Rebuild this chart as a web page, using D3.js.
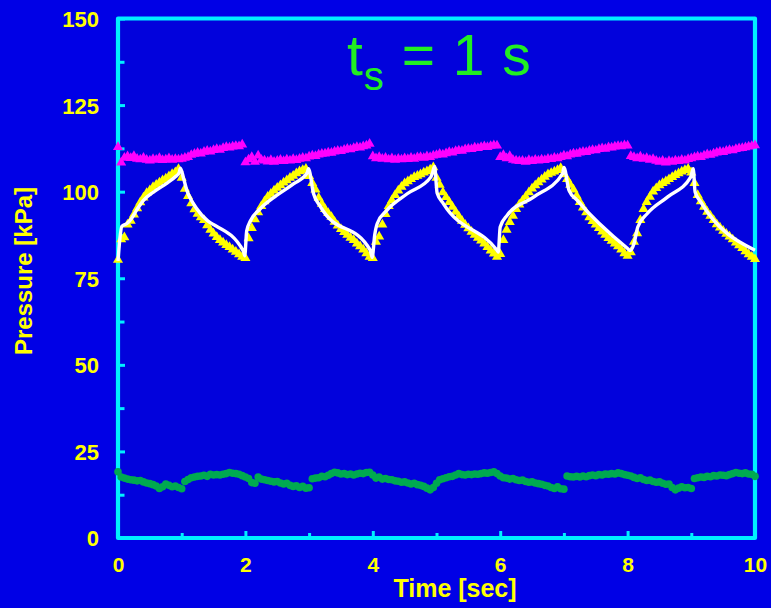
<!DOCTYPE html>
<html>
<head>
<meta charset="utf-8">
<script src="https://cdn.jsdelivr.net/npm/d3@7"></script>
<style>
  html, body { margin: 0; padding: 0; background: #0000e6; }
  svg { display: block; }
</style>
</head>
<body>
<script>
// Sampling instant of the measured series (s)
const sampleStep = 0.05;

// Measured pressure in the chamber (yellow triangles), kPa
const chamberPressure = [
  80.3, 86.2, 86.8, 90.5, 91.6, 93.4, 95.2, 96.9, 98.3, 99.6, 100.4, 101.3, 102.0, 102.6, 103.3, 103.8, 104.4, 105.1, 105.6, 106.5,
  104.0, 100.8, 98.7, 96.6, 94.9, 93.6, 92.6, 91.8, 90.3, 89.0, 87.9, 86.9, 86.0, 85.3, 84.6, 84.0, 83.3, 82.6, 81.9, 81.2,
  80.8, 86.5, 89.5, 92.0, 94.0, 95.8, 97.2, 98.5, 99.4, 100.3, 101.1, 101.8, 102.6, 103.3, 104.0, 104.6, 105.3, 105.9, 106.2, 106.6,
  104.5, 102.5, 100.6, 98.2, 96.5, 95.0, 93.8, 92.7, 91.3, 90.2, 89.2, 88.3, 87.5, 86.7, 86.0, 85.0, 84.2, 83.3, 82.2, 81.2,
  80.8, 85.5, 87.0, 90.5, 93.5, 95.8, 97.5, 99.0, 100.3, 101.4, 102.4, 103.0, 103.6, 104.2, 104.6, 105.0, 105.5, 105.9, 106.4, 107.0,
  104.0, 102.0, 99.8, 98.4, 97.0, 95.6, 94.2, 92.9, 91.6, 90.4, 89.4, 88.4, 87.5, 86.7, 85.9, 85.0, 84.0, 83.0, 82.1, 81.2,
  82.0, 86.0, 89.0, 91.2, 93.0, 95.0, 96.3, 97.4, 98.6, 99.8, 100.9, 101.8, 102.7, 103.5, 104.3, 105.0, 105.4, 105.8, 106.2, 106.8,
  105.0, 103.6, 102.0, 100.6, 98.8, 97.0, 95.4, 94.0, 92.6, 91.5, 90.5, 89.5, 88.5, 87.5, 86.6, 85.8, 85.0, 84.2, 83.3, 82.2,
  81.5, 82.5, 85.5, 88.0, 91.8, 95.0, 97.0, 98.5, 100.0, 101.0, 101.8, 102.5, 103.0, 103.6, 104.2, 104.8, 105.3, 105.8, 106.2, 106.6,
  105.5, 102.5, 99.0, 97.2, 95.6, 94.2, 93.0, 91.8, 90.6, 89.6, 88.7, 87.8, 87.0, 86.2, 85.3, 84.5, 83.7, 82.8, 81.9, 81.2,
  80.5
];

// Measured supply pressure (magenta triangles), kPa
const supplyPressure = [
  112.9, 108.4, 109.8, 110.2, 109.7, 110.3, 109.5, 109.3, 109.8, 109.2, 109.0, 109.4, 109.2, 109.7, 109.1, 109.3, 109.6, 109.2, 109.4, 109.3,
  109.5, 109.8, 110.0, 110.6, 110.9, 111.2, 111.0, 111.5, 111.8, 111.6, 112.0, 112.3, 112.1, 112.6, 112.9, 112.7, 113.0, 113.2, 113.1, 113.6,
  108.5, 109.3, 110.0, 108.6, 110.4, 109.2, 109.0, 108.7, 109.1, 108.6, 108.9, 109.2, 108.8, 109.3, 109.0, 109.4, 109.1, 109.5, 109.8, 109.6,
  110.1, 110.4, 110.3, 110.7, 110.9, 111.0, 111.3, 111.2, 111.6, 111.8, 111.7, 112.1, 112.4, 112.2, 112.6, 112.9, 112.7, 113.1, 113.3, 113.8,
  110.2, 109.6, 110.0, 109.5, 109.8, 109.3, 109.6, 109.2, 109.5, 109.3, 109.6, 109.4, 109.8, 109.5, 109.9, 110.0, 109.8, 110.2, 110.0, 110.4,
  110.6, 110.9, 110.7, 111.1, 111.4, 111.3, 111.7, 111.9, 111.8, 112.2, 112.4, 112.3, 112.7, 112.6, 112.9, 113.1, 112.9, 113.2, 113.4, 113.3,
  110.0, 110.6, 109.6, 110.3, 109.2, 109.0, 108.8, 108.9, 108.6, 109.1, 108.8, 109.2, 109.0, 109.3, 109.1, 109.5, 109.4, 109.8, 109.6, 110.0,
  110.4, 110.2, 110.7, 111.0, 110.9, 111.3, 111.5, 111.4, 111.8, 112.0, 111.9, 112.3, 112.5, 112.4, 112.8, 112.7, 113.0, 113.2, 113.1, 113.4,
  113.3, 110.3, 110.0, 109.6, 110.1, 109.5, 109.7, 109.2, 109.4, 108.9, 108.6, 108.9, 108.4, 108.8, 108.6, 109.0, 108.8, 109.2, 109.0, 109.4,
  109.6, 109.9, 110.1, 110.0, 110.4, 110.8, 110.6, 111.0, 111.3, 111.5, 111.4, 111.8, 112.0, 111.9, 112.3, 112.5, 112.6, 112.8, 113.0, 113.2,
  113.4
];

// Measured exhaust-side pressure (green circles), kPa
const exhaustPressure = [
  19.1, 17.6, 17.3, 17.0, 16.8, 16.7, 16.5, 16.6, 16.2, 15.9, 15.7, 15.4, 15.0, 14.3, 14.8, 15.6, 15.2, 14.8, 15.0, 14.6,
  14.2, 16.3, 16.9, 17.4, 17.6, 17.8, 17.9, 18.1, 17.8, 18.4, 18.2, 18.3, 18.2, 18.4, 18.6, 18.9, 18.7, 18.6, 18.4, 18.0,
  17.6, 17.2, 16.0, 15.8, 17.6, 17.0, 16.8, 16.6, 16.4, 16.2, 16.3, 15.9, 15.6, 15.8, 15.2, 14.9, 15.1, 14.6, 14.9, 14.4,
  14.5, 17.1, 17.3, 17.4, 17.8, 17.7, 18.1, 18.6, 19.0, 18.8, 18.5, 18.6, 18.3, 18.5, 18.2, 18.5, 18.7, 18.6, 18.9, 19.0,
  18.2, 17.3, 17.6, 17.0, 17.2, 16.9, 16.8, 16.5, 16.4, 16.1, 16.2, 15.9, 15.6, 15.8, 15.4, 15.2, 14.9, 14.4, 13.9, 14.6,
  15.8, 16.8, 17.1, 17.4, 17.7, 17.8, 18.2, 18.6, 18.3, 18.2, 18.4, 18.3, 18.5, 18.4, 18.6, 18.8, 18.7, 18.9, 19.1, 18.6,
  17.9, 17.4, 17.3, 17.0, 17.2, 16.8, 16.6, 16.7, 16.3, 16.1, 16.2, 15.9, 15.7, 15.5, 15.2, 15.0, 14.6, 14.3, 14.8, 14.2,
  14.1, 17.9, 17.7, 17.6, 17.8, 17.6, 17.9, 17.7, 18.0, 18.2, 18.0, 18.3, 18.2, 18.5, 18.4, 18.6, 18.5, 18.8, 18.6, 18.3,
  18.1, 17.9, 17.5, 17.2, 17.4, 16.9, 16.6, 16.7, 16.3, 16.1, 16.2, 15.8, 15.5, 15.6, 14.6, 13.9, 14.4, 14.8, 14.5, 14.6,
  14.3, 17.2, 17.4, 17.6, 17.5, 17.8, 17.7, 18.0, 17.9, 18.2, 18.1, 18.0, 18.3, 18.6, 18.9, 18.7, 18.6, 18.8, 18.5, 18.4,
  17.8
];

// Simulated chamber pressure (white line)
const modelTime = [
  0, 0.03, 0.06, 0.14, 0.21, 0.29, 0.40, 0.56, 0.77, 0.90, 0.96, 0.98, 1.03, 1.08, 1.15, 1.24, 1.97, 1.99,
  2.02, 2.08, 2.23, 2.49, 2.76, 2.97, 2.99, 3.07, 3.18, 3.96, 3.99,
  4.03, 4.07, 4.22, 4.54, 4.91, 4.94, 4.97, 5.01, 5.11, 5.95, 5.97,
  6.00, 6.11, 6.53, 6.98, 7.00, 7.08, 7.21, 8.00, 8.04,
  8.10, 8.16, 8.31, 8.63, 8.99, 9.03, 9.06, 9.15, 10.0
];
const modelPressure = [
  80.0, 86.5, 90.0, 90.8, 92.2, 94.6, 97.5, 99.9, 102.5, 104.3, 105.5, 106.8, 103.8, 100.4, 97.6, 95.0, 82.8, 81.5,
  88.6, 91.6, 95.0, 98.9, 102.3, 105.4, 106.6, 99.4, 95.6, 83.1, 81.0,
  87.5, 90.8, 94.6, 99.4, 104.2, 105.6, 107.3, 99.6, 96.5, 83.1, 82.6,
  89.8, 93.2, 98.5, 105.2, 107.0, 100.4, 97.5, 83.6, 83.0,
  85.0, 89.8, 93.7, 98.5, 104.2, 106.6, 99.9, 97.0, 83.1
];

// Axis ticks
const xTickLabels = [0, 2, 4, 6, 8, 10];
const xMinorTicks = [1, 3, 5, 7, 9];
const yTickLabels = [0, 25, 50, 75, 100, 125, 150];
const yMinorTicks = [12.5, 37.5, 62.5, 87.5, 112.5, 137.5];

const W = 771, H = 608;
const plotLeft = 118, plotRight = 755, plotTop = 18.5, plotBottom = 538;

const svg = d3.select("body").append("svg").attr("width", W).attr("height", H);

svg.append("rect").attr("width", W).attr("height", H).attr("fill", "#0000e6");
svg.append("rect")
  .attr("x", plotLeft).attr("y", plotTop)
  .attr("width", plotRight - plotLeft).attr("height", plotBottom - plotTop)
  .attr("fill", "#0202dc");

const x = d3.scaleLinear().domain([0, 10]).range([plotLeft, plotRight]);
const y = d3.scaleLinear().domain([0, 150]).range([plotBottom, plotTop]);

const axisColor = "#00f0ff";
const labelFont = "'Liberation Sans', Arial, sans-serif";

// Frame
svg.append("rect")
  .attr("x", plotLeft).attr("y", plotTop)
  .attr("width", plotRight - plotLeft).attr("height", plotBottom - plotTop)
  .attr("fill", "none").attr("stroke", axisColor)
  .attr("stroke-width", 4.2).attr("stroke-linejoin", "round");

function styleAxis(g, tickWidth) {
  g.select(".domain").remove();
  g.selectAll(".tick line").attr("stroke", axisColor).attr("stroke-width", tickWidth);
  g.selectAll(".tick text")
    .attr("fill", "#ffff00")
    .attr("font-family", labelFont)
    .attr("font-weight", "bold");
}

// Y axis: labelled ticks and minor ticks, pointing inward
const yAxis = svg.append("g").attr("transform", `translate(${plotLeft},0)`)
  .call(d3.axisLeft(y).tickValues(yTickLabels).tickSizeInner(-7).tickSizeOuter(0).tickPadding(19));
styleAxis(yAxis, 3);
yAxis.selectAll(".tick text").attr("font-size", 22).attr("dy", "0.36em");

const yMinor = svg.append("g").attr("transform", `translate(${plotLeft},0)`)
  .call(d3.axisLeft(y).tickValues(yMinorTicks).tickSizeInner(-6.5).tickSizeOuter(0).tickFormat(""));
styleAxis(yMinor, 3);

// X axis
const xAxis = svg.append("g").attr("transform", `translate(0,${plotBottom})`)
  .call(d3.axisBottom(x).tickValues(xTickLabels).tickSizeInner(-7).tickSizeOuter(0).tickPadding(19));
styleAxis(xAxis, 3);
xAxis.selectAll(".tick text").attr("font-size", 21).attr("dy", "0.71em");

const xMinor = svg.append("g").attr("transform", `translate(0,${plotBottom})`)
  .call(d3.axisBottom(x).tickValues(xMinorTicks).tickSizeInner(-5).tickSizeOuter(0).tickFormat(""));
styleAxis(xMinor, 3);

// Axis titles
svg.append("text")
  .attr("x", 455).attr("y", 597)
  .attr("text-anchor", "middle")
  .attr("font-family", labelFont).attr("font-weight", "bold").attr("font-size", 25)
  .attr("fill", "#ffff00")
  .text("Time [sec]");

svg.append("text")
  .attr("transform", "translate(32,271) rotate(-90)")
  .attr("text-anchor", "middle")
  .attr("font-family", labelFont).attr("font-weight", "bold").attr("font-size", 24)
  .attr("fill", "#ffff00")
  .text("Pressure [kPa]");

// Title: t_s = 1 s
const title = svg.append("text")
  .attr("x", 347).attr("y", 75)
  .attr("font-family", labelFont).attr("font-size", 57)
  .attr("letter-spacing", 1)
  .attr("fill", "#22ee22");
title.append("tspan").text("t");
title.append("tspan").attr("font-size", 40).attr("dy", 15).text("s");
title.append("tspan").attr("dy", -15).text(" = 1 s");

const sampleTimes = d3.range(chamberPressure.length).map(i => +(i * sampleStep).toFixed(2));

const tri = d3.symbol().type(d3.symbolTriangle).size(44);

// Supply pressure
svg.append("g").selectAll("path")
  .data(supplyPressure)
  .join("path")
  .attr("d", tri)
  .attr("transform", (d, i) => `translate(${x(sampleTimes[i])},${y(d)})`)
  .attr("fill", "#ff00ff");

// Exhaust pressure
svg.append("g").selectAll("circle")
  .data(exhaustPressure)
  .join("circle")
  .attr("cx", (d, i) => x(sampleTimes[i]))
  .attr("cy", d => y(d))
  .attr("r", 3.8)
  .attr("fill", "#00aa50");

// Chamber pressure (measured)
svg.append("g").selectAll("path")
  .data(chamberPressure)
  .join("path")
  .attr("d", tri)
  .attr("transform", (d, i) => `translate(${x(sampleTimes[i])},${y(d)})`)
  .attr("fill", "#ffff00");

// Chamber pressure (model)
const line = d3.line()
  .x((d, i) => x(modelTime[i]))
  .y(d => y(d))
  .curve(d3.curveMonotoneX);

svg.append("path")
  .datum(modelPressure)
  .attr("d", line)
  .attr("fill", "none")
  .attr("stroke", "#ffffff")
  .attr("stroke-width", 3.4)
  .attr("stroke-linejoin", "round");
</script>
</body>
</html>
